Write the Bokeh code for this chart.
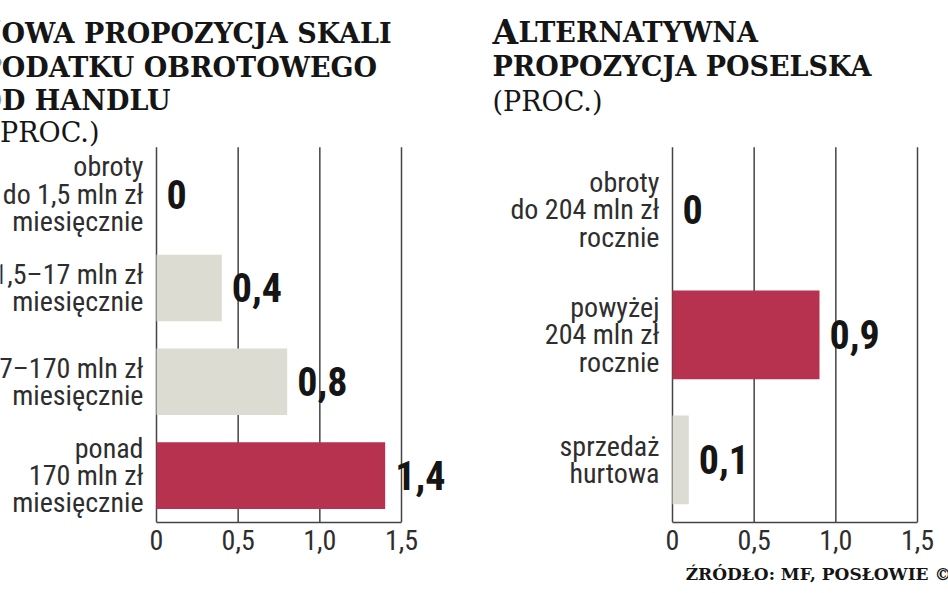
from bokeh.plotting import figure
from bokeh.layouts import row
from bokeh.models import ColumnDataSource, Range1d, FixedTicker, Title
from bokeh.core.properties import value
from bokeh.embed import file_html
from bokeh.resources import INLINE

# ---------------- data ----------------
left_categories = [
    "obroty\ndo 1,5 mln zł\nmiesięcznie",
    "1,5–17 mln zł\nmiesięcznie",
    "17–170 mln zł\nmiesięcznie",
    "ponad\n170 mln zł\nmiesięcznie",
]
left_values = [0.0, 0.4, 0.8, 1.4]
left_highlight = [False, False, False, True]

right_categories = [
    "obroty\ndo 204 mln zł\nrocznie",
    "powyżej\n204 mln zł\nrocznie",
    "sprzedaż\nhurtowa",
]
right_values = [0.0, 0.9, 0.1]
right_highlight = [False, True, False]

tick_values = [0, 0.5, 1.0, 1.5]
tick_labels = ["0", "0,5", "1,0", "1,5"]

source_text = "ŹRÓDŁO: MF, POSŁOWIE ©"

# ---------------- styles ----------------
LIGHT = "#dcdcd3"
RED = "#b6324f"
GRID = "#444444"
TXT = "#2e2e2e"
DARK = "#151515"
SANS = "Noto Sans Condensed, Roboto Condensed, Roboto"
SERIF = "DejaVu Serif"

H = 593
TOP = 147          # y of the top of the bar area
PLOT_H = 376       # height of the bar area
BOTTOM = H - TOP - PLOT_H
PPU = 245 / 1.5    # pixels per percentage point


def make_panel(cats, vals, hi, width, zero_px, offset):
    n = len(cats)
    unit = PLOT_H / n
    x_range = Range1d(-zero_px / PPU, (width - zero_px) / PPU)
    y_range = Range1d(n - 0.5, -0.5 - TOP / unit)
    p = figure(width=width, height=H, x_range=x_range, y_range=y_range,
               min_border_left=0, min_border_right=0,
               min_border_top=0, min_border_bottom=BOTTOM,
               output_backend="svg", toolbar_location=None)
    p.outline_line_color = None
    p.background_fill_color = "white"
    p.border_fill_color = "white"
    p.yaxis.visible = False
    p.xgrid.visible = False
    p.ygrid.visible = False

    p.xaxis.ticker = FixedTicker(ticks=tick_values)
    p.xaxis.bounds = (min(tick_values), max(tick_values))
    p.xaxis.major_label_overrides = dict(zip(tick_values, tick_labels))
    p.xaxis.major_tick_line_color = None
    p.xaxis.major_tick_out = 0
    p.xaxis.major_tick_in = 0
    p.xaxis.minor_tick_line_color = None
    p.xaxis.axis_line_color = GRID
    p.xaxis.axis_line_width = 1.5
    p.xaxis.major_label_text_font = SANS
    p.xaxis.major_label_text_font_size = "28px"
    p.xaxis.major_label_text_color = TXT
    p.xaxis.major_label_standoff = 7

    # vertical guide lines at the ticks, limited to the bar area
    p.segment(x0=tick_values, x1=tick_values,
              y0=[-0.5] * len(tick_values), y1=[n - 0.5] * len(tick_values),
              line_color=GRID, line_width=1.5)

    ys = list(range(n))
    src = ColumnDataSource(dict(
        y=ys, v=vals, cat=cats,
        vt=[("%g" % v).replace(".", ",") for v in vals],
        color=[RED if h else LIGHT for h in hi],
    ))
    p.hbar(y="y", left=0, right="v", height=0.71, fill_color="color",
           line_color=None, source=src)

    p.text(x="v", y="y", text="vt", x_offset=10, source=src,
           text_font=value(SANS), text_font_style="bold",
           text_font_size="40px", text_color=DARK,
           text_baseline="middle", text_align="left")
    p.text(x=0, y="y", text="cat", x_offset=-13, source=src,
           text_font=value(SANS), text_font_size="28px",
           text_color=TXT, text_line_height=0.83,
           text_baseline="middle", text_align="right")

    def rx(ref_x):
        return (ref_x - offset - zero_px) / PPU

    def ry(ref_y):
        return -0.5 + (ref_y - TOP) / unit

    def txt(ref_x, ref_y, text, size, bold=True, align="left"):
        p.text(x=[rx(ref_x)], y=[ry(ref_y)], text=[text],
               text_font=value(SERIF), text_font_size=size,
               text_font_style="bold" if bold else "normal",
               text_color=DARK, text_align=align,
               text_baseline="alphabetic")
    return p, txt


left, ltxt = make_panel(left_categories, left_values, left_highlight, 480, 156, 0)
right, rtxt = make_panel(right_categories, right_values, right_highlight, 468, 192, 480)

# titles (small caps emulated with a larger initial)
ltxt(1, 33, "N", "33px", align="right")
ltxt(1, 33, "OWA PROPOZYCJA SKALI", "27px")
ltxt(-19, 67, "PODATKU OBROTOWEGO", "27px")
ltxt(-22, 100, "OD HANDLU", "27px")
ltxt(-11, 132, "(PROC.)", "27px", bold=False)

rtxt(492, 32, "A", "33px")
rtxt(518, 32, "LTERNATYWNA", "27px")
rtxt(492, 66, "PROPOZYCJA POSELSKA", "27px")
rtxt(492, 101, "(PROC.)", "27px", bold=False)

right.add_layout(Title(text=source_text, align="right", offset=-3, standoff=19,
                       text_font=SERIF, text_font_size="17px",
                       text_font_style="bold", text_color=DARK), "below")

layout = row(left, right)
open("out.html", "w").write(file_html(layout, INLINE))
